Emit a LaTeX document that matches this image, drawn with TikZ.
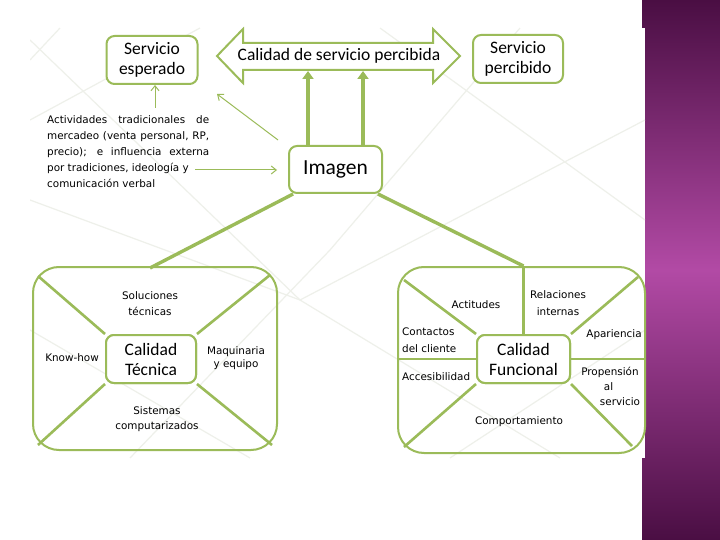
\documentclass[tikz,border=0pt]{standalone}
\usepackage{fontspec}
\setmainfont{Carlito}
\newfontfamily\smallf{DejaVu Sans}
\usetikzlibrary{arrows.meta}
\definecolor{ogreen}{HTML}{9BBB59}
\definecolor{pdark}{HTML}{4A0E43}
\definecolor{plight}{HTML}{B24AA5}
\definecolor{faint}{HTML}{EEF0EA}
\begin{document}
\begin{tikzpicture}[x=1pt,y=-1pt,
  bigtxt/.style={font=\fontsize{17.5}{20}\selectfont},
  smalltxt/.style={font=\smallf\fontsize{10.4}{15.5}\selectfont, align=center, inner sep=0pt},
  gbox/.style={draw=ogreen, line width=2pt, rounded corners=8pt, fill=white, bigtxt, align=center, inner sep=0pt},
  obox/.style={draw=ogreen, line width=2pt, rounded corners=26pt, inner sep=0pt},
  divider/.style={draw=ogreen, line width=2.6pt},
  thinarrow/.style={draw=ogreen, line width=1pt, -{Straight Barb[length=5pt,width=8pt]}},
  thickarrow/.style={draw=ogreen, line width=3.8pt, -{Triangle[length=8pt,width=11pt]}},
  link/.style={draw=ogreen, line width=3.4pt}
]
\useasboundingbox (0,0) rectangle (720,540);
% slide band
\shade[top color=pdark, bottom color=pdark, middle color=plight] (642,0) rectangle (720,540);
\fill[white] (30,28) rectangle (645,458);
% faint background grid
\begin{scope}
\clip (30,28) rectangle (645,458);
\draw[faint, line width=1.2pt] (30,40) -- (300,300) -- (560,458);
\draw[faint, line width=1.2pt] (30,200) -- (300,300) -- (645,120);
\draw[faint, line width=1.2pt] (60,28) -- (30,60);
\draw[faint, line width=1.2pt] (130,458) -- (330,250) -- (520,28);
\draw[faint, line width=1.2pt] (30,330) -- (250,458);
\draw[faint, line width=1.2pt] (450,458) -- (645,330);
\draw[faint, line width=1.2pt] (380,28) -- (645,220);
\draw[faint, line width=1.2pt] (30,120) -- (200,28);
\end{scope}

% outer boxes
\node[obox, minimum width=244pt, minimum height=183pt] (lb) at (155,358.5) {};
\node[obox, minimum width=247pt, minimum height=186pt] (rb) at (521.5,360) {};

% inner boxes
\node[gbox, minimum width=90pt, minimum height=48pt] (ct) at (151,359) {Calidad\\Técnica};
\node[gbox, minimum width=93pt, minimum height=48pt] (cf) at (523.5,359) {Calidad\\Funcional};

% left dividers
\coordinate (l1) at (38,276);
\coordinate (l2) at (270,275);
\coordinate (l3) at (38,445);
\coordinate (l4) at (272,445);
\draw[divider] (ct.north west) -- (l1);
\draw[divider] (ct.north east) -- (l2);
\draw[divider] (ct.south west) -- (l3);
\draw[divider] (ct.south east) -- (l4);

% right dividers
\coordinate (r1) at (404,280);
\coordinate (r2) at (638,277);
\coordinate (r3) at (404,447);
\coordinate (r4) at (632,446);
\coordinate (rt) at (cf.north |- rb.north);
\draw[divider] (cf.north west) -- (r1);
\draw[divider] (cf.north east) -- (r2);
\draw[divider] (cf.south west) -- (r3);
\draw[divider] (cf.south east) -- (r4);
\draw[divider] (cf.north) -- (rt);
\draw[divider] (cf.west) -- (cf.west -| rb.west);
\draw[divider] (cf.east) -- (cf.east -| rb.east);

% redraw inner boxes on top
\node[gbox, minimum width=90pt, minimum height=48pt] at (ct) {Calidad\\Técnica};
\node[gbox, minimum width=93pt, minimum height=48pt] at (cf) {Calidad\\Funcional};

% top boxes
\node[gbox, minimum width=91pt, minimum height=48pt] (se) at (152,60) {Servicio\\esperado};
\node[gbox, minimum width=90pt, minimum height=48pt] (sp) at (518,59) {Servicio\\percibido};
\node[gbox, minimum width=93pt, minimum height=47pt, font=\fontsize{21.5}{24}\selectfont] (img) at (335.5,169.5) {Imagen};

% double arrow
\filldraw[draw=ogreen, fill=white, line width=2pt, line join=miter]
  (217,56) -- (243,29) -- (243,43) -- (433,43) -- (433,29) -- (460,56)
  -- (433,83) -- (433,70) -- (243,70) -- (243,83) -- cycle;
\node[bigtxt, inner sep=0pt] (cal) at (339,56) {Calidad de servicio percibida};

% thick arrows from Imagen
\coordinate (a1) at (308,71);
\coordinate (a2) at (363,71);
\draw[thickarrow] (img.north -| a1) -- (a1);
\draw[thickarrow] (img.north -| a2) -- (a2);

% links from Imagen
\coordinate (lt) at (150,268);
\draw[link] (img.-150) -- (lt);
\draw[link] (img.-30) -- (rt);

% text block
\node[font=\smallf\fontsize{10.4}{15.9}\selectfont, align=left, inner sep=0pt, anchor=north west] (txt) at (47,115.5)
 {\makebox[162pt][s]{Actividades tradicionales de}\\
  \makebox[162pt][s]{mercadeo (venta personal, RP,}\\
  \makebox[162pt][s]{precio); e influencia externa}\\
  por tradiciones, ideología y\\
  comunicación verbal};

% thin arrows
\coordinate (t1) at (155,108);
\draw[thinarrow] (t1) -- (t1 |- se.south);
\coordinate (t2) at (278,140);
\coordinate (t2e) at (217,94);
\draw[thinarrow] (t2) -- (t2e);
\coordinate (t3) at (195,170);
\draw[thinarrow] (t3) -- ([xshift=-11pt]t3 -| img.west);

% left box labels
\node[smalltxt, font=\smallf\fontsize{10.4}{16}\selectfont] (sol) at (150,304) {Soluciones\\técnicas};
\node[smalltxt] (kh) at (72,358) {Know-how};
\node[smalltxt, font=\smallf\fontsize{10.4}{13.5}\selectfont] (maq) at (236,358) {Maquinaria\\y equipo};
\node[smalltxt] (sis) at (157,419) {Sistemas\\computarizados};

% right box labels
\node[smalltxt] (act) at (476,305) {Actitudes};
\node[smalltxt, font=\smallf\fontsize{10.4}{16.5}\selectfont] (rel) at (558,303) {Relaciones\\internas};
\node[smalltxt, align=left, anchor=west, font=\smallf\fontsize{10.4}{16.5}\selectfont] (con) at (402,340) {Contactos\\del cliente};
\node[smalltxt] (apa) at (614,335) {Apariencia};
\node[smalltxt, anchor=west] (acc) at (402,377) {Accesibilidad};
\node[smalltxt] (pro1) at (610,372) {Propensión};
\node[smalltxt] (pro2) at (608.5,387) {al};
\node[smalltxt] (pro3) at (620,402) {servicio};
\node[smalltxt] (com) at (519,422) {Comportamiento};
\end{tikzpicture}
\end{document}
